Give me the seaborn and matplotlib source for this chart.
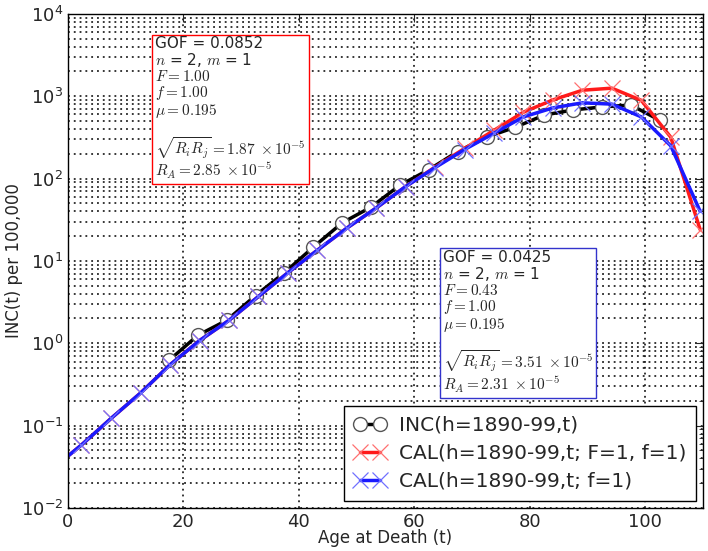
import numpy as np
import pandas as pd
import matplotlib
matplotlib.use('Agg')
import matplotlib.pyplot as plt
import seaborn as sns

# Observed incidence (circles)
inc_age = [17.5, 22.5, 27.5, 32.5, 37.5, 42.5, 47.5, 52.5, 57.5, 62.5,
           67.5, 72.5, 77.5, 82.5, 87.5, 92.5, 97.5, 102.5]
inc_val = [0.62, 1.25, 1.9, 3.8, 7.2, 14.7, 29, 45, 83, 128,
           212, 318, 420, 590, 680, 740, 780, 510]

# Calculated curves (x markers)
cal_age = [-2.8, 2.3, 7.5, 12.6, 17.7, 22.8, 27.9, 33.0, 38.1, 43.2, 48.3,
           53.4, 58.5, 63.6, 68.7, 73.8, 78.9, 84.0, 89.1, 94.2, 99.3,
           104.4, 109.5]
cal_red = [0.0295, 0.058, 0.123, 0.25, 0.55, 1.08, 1.9, 3.7, 7.2, 13.5, 25,
           44, 80, 138, 232, 385, 640, 900, 1180, 1250, 890,
           318, 24]
cal_blue = [0.0295, 0.058, 0.123, 0.25, 0.55, 1.08, 1.9, 3.7, 7.2, 13.5, 25,
            44, 80, 136, 225, 355, 560, 720, 830, 800, 560,
            250, 40]

labels = ['INC(h=1890-99,t)', 'CAL(h=1890-99,t; F=1, f=1)', 'CAL(h=1890-99,t; f=1)']

sns.set_style('white')
plt.rcParams['font.family'] = ['DejaVu Sans']
plt.rcParams['mathtext.fontset'] = 'dejavusans'

fig = plt.figure(figsize=(7.08, 5.51), dpi=100)
ax = fig.add_axes([0.096, 0.078, 0.897, 0.897])

sns.lineplot(x=inc_age, y=inc_val, ax=ax, color='black', lw=2.5, linestyle='-',
             marker='o', ms=10, mfc='white', mec='#555555', mew=1.0,
             label=labels[0], sort=False)
sns.lineplot(x=cal_age, y=cal_red, ax=ax, color='#ff1a1a', lw=2.5, linestyle='-',
             marker='x', ms=11, mec='#ff7070', mew=0.9,
             label=labels[1], sort=False)
sns.lineplot(x=cal_age, y=cal_blue, ax=ax, color='#1a1aff', lw=2.5, linestyle='-',
             marker='x', ms=11, mec='#7070ff', mew=0.9,
             label=labels[2], sort=False)

ax.set_yscale('log')
ax.set_xlim(0, 110)
ax.set_ylim(1e-2, 1e4)
ax.set_xticks([0, 20, 40, 60, 80, 100])

dots = (0, (1.2, 2.6))
ax.grid(True, which='major', axis='both', color='black', linestyle=dots, lw=1.1)
ax.grid(True, which='minor', axis='y', color='black', linestyle=dots, lw=1.1)
ax.tick_params(direction='in', top=True, right=True, labelsize=13, length=6)
ax.tick_params(which='minor', direction='in', right=True, length=3)
for s in ax.spines.values():
    s.set_color('black')
    s.set_linewidth(1)

ax.set_xlabel('Age at Death (t)', fontsize=12)
ax.set_ylabel('INC(t) per 100,000', fontsize=12)
ax.xaxis.set_label_coords(0.5, -0.043)
ax.yaxis.set_label_coords(-0.071, 0.5)

box1 = ('GOF = 0.0852\n$n$ = 2, $m$ = 1\n$F = 1.00$\n$f = 1.00$\n$\\mu = 0.195$\n\n'
        '$\\sqrt{R_i R_j} = 1.87\\;\\times 10^{-5}$\n$R_A = 2.85\\;\\times 10^{-5}$')
box2 = ('GOF = 0.0425\n$n$ = 2, $m$ = 1\n$F = 0.43$\n$f = 1.00$\n$\\mu = 0.195$\n\n'
        '$\\sqrt{R_i R_j} = 3.51\\;\\times 10^{-5}$\n$R_A = 2.31\\;\\times 10^{-5}$')
ax.text(0.137, 0.955, box1, transform=ax.transAxes, va='top', ha='left',
        fontsize=11, math_fontfamily='cm', linespacing=1.0,
        bbox=dict(boxstyle='square,pad=0.2', fc='white', ec='red', lw=1))
ax.text(0.590, 0.523, box2, transform=ax.transAxes, va='top', ha='left',
        fontsize=11, math_fontfamily='cm', linespacing=1.0,
        bbox=dict(boxstyle='square,pad=0.2', fc='white', ec='#3333cc', lw=1))

leg = ax.legend(loc='lower right', fontsize=14.5, numpoints=2, fancybox=False,
                framealpha=1, edgecolor='black', borderaxespad=0.35,
                handlelength=1.6, handletextpad=0.6, labelspacing=0.45,
                borderpad=0.5)
leg.get_frame().set_linewidth(1)

fig.savefig('out.png', dpi=100)
